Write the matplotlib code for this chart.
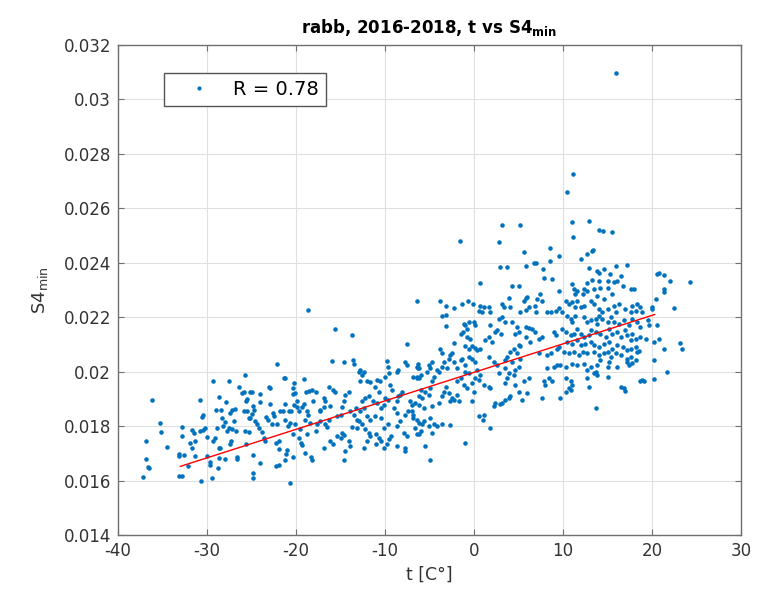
import matplotlib
matplotlib.use("Agg")
import matplotlib.pyplot as plt
from matplotlib.ticker import FuncFormatter, MultipleLocator

plt.rcParams['font.family'] = ['DejaVu Sans']
plt.rcParams['mathtext.fontset'] = 'dejavusans'

# (t [C], S4_min), grouped by region
region_a = [(-36.2,0.01897),(-35.27,0.01810),(-35.16,0.01779),(-36.85,0.01745),(-36.89,0.01681),
(-36.6,0.01648),(-36.5,0.01646),(-37.15,0.01612),(-34.53,0.01724),(-32.8,0.01796),(-32.8,0.01764),
(-33.2,0.01699),(-33.2,0.01691),(-33.1,0.01616),(-32.8,0.01616),(-32.6,0.01693),(-32.1,0.01655),
(-31.7,0.01784),(-31.5,0.01776),(-31.9,0.01738),(-31.7,0.01721),(-31.3,0.01745),(-31.3,0.01691),
(-30.8,0.01895),(-30.7,0.01598),(-30.6,0.01834),(-30.5,0.01842),(-30.8,0.01782),(-30.5,0.01785),
(-30.2,0.01794),(-30.0,0.01760),(-29.95,0.01691),(-29.7,0.01667),(-29.7,0.01657),(-29.35,0.01966),
(-29.4,0.01608),(-29.3,0.01745),(-29.1,0.01758),(-28.9,0.01794),(-29.0,0.01858),(-28.7,0.01907),
(-28.8,0.01646),(-28.7,0.01721),(-28.5,0.01721),(-28.6,0.01682),(-28.45,0.01858),(-28.3,0.01828),
(-28.2,0.01800),(-28.0,0.01815),(-27.85,0.01888),(-27.8,0.01782),(-27.55,0.01966),(-27.4,0.01848),
(-27.2,0.01861),(-27.5,0.01794),(-27.2,0.01788),(-27.3,0.01745),(-27.4,0.01733),(-27.0,0.01818),
(-26.84,0.01864),(-26.7,0.01782),(-28.0,0.01681),(-26.65,0.01687),(-26.6,0.01679),(-26.35,0.01945),
(-26.1,0.01921),(-25.8,0.01925),(-25.7,0.01988),(-25.6,0.01891),(-25.45,0.01901),(-25.8,0.01855),
(-25.45,0.01855),(-25.2,0.01927),(-24.95,0.01927),(-25.3,0.01830),(-25.15,0.01828),(-25.7,0.01782),
(-25.3,0.01778),(-25.6,0.01733),(-24.85,0.01873),(-24.7,0.01861),(-24.95,0.01845),(-24.6,0.01818),
(-24.4,0.01806),(-24.2,0.01794),(-24.1,0.01918),(-24.1,0.01888),(-24.85,0.01695),(-24.8,0.01627),
(-24.8,0.01608),(-24.0,0.01663),(-23.65,0.01755),(-23.5,0.01745),(-23.8,0.01779),(-23.35,0.01833),
(-23.2,0.01821),(-22.98,0.01945),(-22.9,0.01939),(-22.9,0.01881),(-22.6,0.01848),(-22.45,0.01836),
(-22.7,0.01806),(-22.15,0.01806),(-22.2,0.01739),(-21.96,0.01745),(-22.3,0.01655),(-21.96,0.01658),
(-22.15,0.0203),(-21.96,0.01715)]

region_b = [(-18.7,0.02228),(-21.3,0.01978),(-21.2,0.01978),(-20.2,0.0196),(-19.1,0.01973),
(-18.85,0.01925),(-18.5,0.0193),(-18.25,0.01933),(-17.8,0.01927),(-20.3,0.01918),(-20.1,0.01921),
(-19.9,0.01893),(-20.3,0.0194),(-21.8,0.01857),(-21.5,0.01855),(-21.2,0.01881),(-20.8,0.01857),
(-20.6,0.01857),(-20.2,0.01879),(-19.9,0.01869),(-19.7,0.01855),(-19.3,0.01869),(-19.15,0.01881),
(-18.8,0.01855),(-18.7,0.01842),(-18.1,0.01893),(-17.35,0.01861),(-17.3,0.01855),(-16.9,0.01903),
(-16.7,0.01893),(-16.3,0.01942),(-15.8,0.01933),(-15.6,0.01927),(-15.96,0.02039),(-15.66,0.02158),
(-14.6,0.02036),(-13.6,0.02042),(-13.7,0.02136),(-13.5,0.0203),(-16.9,0.01872),(-16.15,0.01875),
(-16.3,0.01824),(-21.2,0.01824),(-20.65,0.01812),(-20.85,0.018),(-20.1,0.01806),(-19.5,0.01788),
(-19.0,0.01824),(-18.4,0.01812),(-17.65,0.01808),(-17.3,0.01818),(-16.7,0.01806),(-16.5,0.01796),
(-17.8,0.01782),(-19.7,0.01758),(-19.45,0.01739),(-19.3,0.01731),(-20.3,0.01772),(-18.8,0.0177),
(-21.0,0.01712),(-21.1,0.01697),(-21.2,0.01675),(-20.3,0.01685),(-19.0,0.01703),(-18.3,0.01687),
(-18.2,0.01675),(-16.9,0.01718),(-16.15,0.01745),(-15.8,0.01733),(-15.4,0.01764),(-15.0,0.01755),
(-14.8,0.01776),(-14.65,0.01767),(-14.5,0.01709),(-14.6,0.01675),(-14.1,0.01745),(-13.9,0.01727),
(-13.7,0.01796),(-13.15,0.01794),(-15.4,0.01836),(-15.0,0.01842),(-14.8,0.01869),(-14.65,0.01891),
(-14.5,0.01915),(-14.1,0.01927),(-13.9,0.01855),(-13.5,0.01842),(-13.3,0.01867),(-13.15,0.01824),
(-12.95,0.0200),(-12.8,0.02006),(-12.85,0.01964),(-12.6,0.01988),(-12.4,0.0200),(-12.0,0.01964),
(-11.7,0.01961),(-12.6,0.01891),(-12.2,0.01903),(-11.85,0.01909),(-12.8,0.01855),(-12.4,0.01867),
(-12.95,0.01818),(-12.6,0.01806),(-12.0,0.01836),(-11.65,0.01824),(-12.2,0.01788),(-11.85,0.01776),
(-12.0,0.01745),(-11.65,0.01764),(-12.4,0.01721),(-11.1,0.01945),(-10.7,0.01927),(-10.9,0.01970),
(-10.6,0.01964),(-11.3,0.01891),(-10.9,0.01885),(-10.5,0.01867),(-10.15,0.01879),(-11.1,0.01836),
(-10.5,0.0183),(-9.96,0.01903),(-9.7,0.01897),(-9.8,0.0204),(-9.7,0.02018),(-9.96,0.01982),
(-9.6,0.01994),(-9.4,0.01952),(-9.2,0.01933),(-10.15,0.01794),(-9.7,0.01806),(-11.0,0.0177),
(-10.7,0.01755),(-10.5,0.01745),(-11.0,0.01733),(-10.15,0.01721),(-9.8,0.01736),(-9.6,0.01752),
(-9.35,0.01764),(-9.0,0.01867),(-8.7,0.01848),(-8.65,0.01891),(-8.5,0.01909),(-8.6,0.0200),
(-8.5,0.02006),(-8.3,0.01915),(-8.1,0.01927),(-7.7,0.02036),(-7.5,0.02024),(-7.7,0.01842),
(-7.45,0.01855),(-7.5,0.02103),(-8.6,0.018),(-8.3,0.01818),(-7.9,0.01776),(-7.5,0.01764),
(-7.7,0.01721),(-7.7,0.01709),(-8.65,0.01727),(-7.15,0.01891),(-6.95,0.01879),(-6.8,0.01842),
(-6.4,0.01824),(-6.6,0.01794),(-6.4,0.0177),(-6.3,0.0203),(-6.3,0.02012),(-6.4,0.01982),
(-6.2,0.01976),(-20.7,0.0159)]

region_c = [(3.16,0.02539),(5.15,0.02539),(-1.6,0.02479),(2.79,0.02476),(8.5,0.02455),(5.67,0.02439),
(9.5,0.02424),(6.72,0.0240),(7.0,0.02398),(5.8,0.02388),(2.97,0.02384),(3.72,0.02384),(7.77,0.02378),
(8.5,0.02406),(7.9,0.02345),(8.8,0.02339),(0.72,0.02325),(4.3,0.02313),(5.04,0.02315),(5.97,0.02276),
(5.8,0.02269),(5.6,0.0226),(7.47,0.02285),(7.1,0.02267),(9.5,0.02297),(-6.4,0.02258),(-3.85,0.02258),
(-3.1,0.02242),(-2.3,0.02233),(-1.34,0.02248),(-0.7,0.02258),(-0.1,0.02248),(0.72,0.02242),
(1.17,0.02236),(1.66,0.02236),(1.85,0.02218),(0.54,0.02224),(0.9,0.02221),(3.16,0.02248),
(3.35,0.02236),(3.9,0.02269),(4.1,0.02236),(5.2,0.02218),(5.8,0.02227),(6.16,0.02236),(6.9,0.02242),
(7.0,0.02221),(7.66,0.0226),(8.2,0.02218),(8.6,0.02221),(9.16,0.02224),(9.5,0.02233),(-3.6,0.02204),
(-3.2,0.02209),(-3.1,0.02166),(-1.15,0.02176),(-0.96,0.0217),(-0.77,0.02158),(-0.6,0.02182),
(-0.03,0.02182),(0.16,0.0217),(-1.5,0.02139),(-1.2,0.02145),(-0.77,0.02127),(-0.4,0.02121),
(-2.3,0.02107),(-0.96,0.02095),(-0.6,0.02085),(-0.2,0.02095),(0.16,0.02087),(0.35,0.02079),
(0.72,0.02085),(1.28,0.02115),(1.66,0.02127),(2.0,0.02109),(2.4,0.02145),(2.6,0.02152),(3.0,0.02139),
(2.8,0.02194),(3.5,0.02182),(3.16,0.022),(1.85,0.0217),(4.3,0.02182),(4.85,0.02164),(4.66,0.02139),
(5.04,0.02145),(5.8,0.02164),(6.16,0.0216),(6.5,0.02158),(6.9,0.02145),(7.3,0.02121),(7.66,0.02127),
(5.8,0.02127),(6.3,0.02109),(5.04,0.02099),(5.2,0.02095),(7.3,0.02067),(8.2,0.0206),(8.6,0.02067),
(9.16,0.02133),(9.0,0.02145),(9.35,0.02085),(9.5,0.02091),(8.2,0.02012),(8.4,0.01976),(8.8,0.01964),
(9.35,0.02024),(9.0,0.02018),(7.85,0.01964),(8.0,0.01952),(7.66,0.01903),(6.16,0.01976),(5.6,0.01964),
(4.1,0.02073),(4.5,0.02085),(4.85,0.02067),(3.72,0.02055),(3.5,0.02042),(4.3,0.02036),(5.2,0.02048),
(1.66,0.02055),(2.2,0.02036),(2.6,0.02024),(3.5,0.02012),(3.9,0.01994),(4.5,0.01988),(3.5,0.01958),
(3.72,0.01976),(2.8,0.01994),(5.04,0.02018),(4.66,0.02006),(4.66,0.01952),(5.04,0.01927),(4.1,0.01909),
(3.9,0.01903),(3.5,0.01897),(3.16,0.01885),(2.4,0.01885),(2.2,0.01873),(2.97,0.01881),(5.4,0.01897),
(5.97,0.01921),(1.1,0.01952),(1.66,0.01945),(1.85,0.0194),(0.16,0.01976),(0.54,0.0197),(-0.2,0.01958),
(-0.03,0.01927),(-0.2,0.01891),(0.6,0.01836),(1.0,0.01824),(1.17,0.01842),(1.85,0.01794),
(-0.96,0.01739),(-1.5,0.02042),(-1.34,0.02048),(-0.96,0.02024),(-0.6,0.02055),(-0.2,0.02048),
(0.16,0.02036),(0.35,0.02006),(0.72,0.01988),(-0.96,0.02),(-0.6,0.01994),(-1.9,0.02012),(-1.5,0.01976),
(-1.9,0.01964),(-1.15,0.01952),(-0.77,0.0194),(-2.65,0.02061),(-2.5,0.02067),(-2.85,0.02048),
(-2.3,0.02036),(-3.0,0.02012),(-3.8,0.02085),(-3.6,0.02067),(-3.4,0.02036),(-3.6,0.02018),
(-4.15,0.02006),(-3.96,0.02),(-4.9,0.02012),(-4.7,0.02036),(-5.1,0.02024),(-5.3,0.02),(-6.4,0.02018),
(-6.2,0.02012),(-6.8,0.01982),(-6.4,0.01976),(-6.0,0.01988),(-4.5,0.01982),(-4.7,0.01964),
(-3.2,0.01945),(-3.4,0.01927),(-2.85,0.01921),(-2.5,0.01903),(-2.3,0.01897),(-2.65,0.01891),
(-1.9,0.01915),(-1.7,0.01891),(-3.6,0.01909),(-3.96,0.01885),(-4.9,0.0194),(-5.1,0.01915),
(-5.5,0.01927),(-6.0,0.01933),(-5.8,0.01903),(-6.2,0.01909),(-6.6,0.01885),(-6.2,0.01879),
(-5.65,0.01867),(-4.7,0.01873),(-4.9,0.0183),(-5.65,0.01818),(-5.8,0.01806),(-6.2,0.01812),
(-5.1,0.018),(-4.5,0.01806),(-4.15,0.018),(-3.6,0.01806),(-2.65,0.01803),(-6.0,0.01782),
(-6.2,0.0177),(-4.7,0.01776),(-5.45,0.01727),(-5.0,0.01676),(-6.8,0.0183),(-6.95,0.01855)]

region_d = [(16.0,0.03097),(11.1,0.02727),(10.4,0.0266),(10.96,0.02549),(12.9,0.02552),(14.1,0.02521),
(14.5,0.02518),(15.5,0.02514),(11.1,0.02493),(11.97,0.02415),(12.7,0.02434),(13.3,0.02442),
(13.4,0.02448),(12.9,0.02382),(13.85,0.0237),(14.1,0.02364),(14.6,0.02378),(16.0,0.0239),
(17.2,0.02393),(15.3,0.02358),(16.5,0.02352),(16.1,0.02333),(15.7,0.0233),(15.0,0.02333),
(14.0,0.02333),(13.3,0.02336),(12.7,0.02327),(11.0,0.02321),(16.7,0.02315),(17.6,0.02303),
(18.0,0.02303),(20.6,0.02358),(20.8,0.02364),(21.3,0.02355),(22.0,0.02333),(24.3,0.0233),
(21.3,0.02303),(21.3,0.02291),(20.4,0.02267),(22.5,0.02233),(20.0,0.02236),(11.2,0.02303),
(11.6,0.02297),(11.4,0.02285),(12.35,0.02303),(12.7,0.02297),(13.5,0.02303),(14.2,0.02309),
(15.0,0.02309),(15.5,0.02285),(14.6,0.02267),(13.85,0.02279),(13.1,0.02261),(12.3,0.02285),
(10.3,0.02261),(10.65,0.02248),(11.0,0.02255),(11.6,0.02261),(11.97,0.02236),(12.35,0.02242),
(11.4,0.02236),(13.5,0.02248),(14.1,0.0223),(14.4,0.02218),(14.0,0.02206),(15.0,0.0223),
(15.7,0.02242),(16.3,0.02248),(15.9,0.0222),(17.0,0.0223),(17.8,0.02242),(18.3,0.02248),
(17.6,0.02218),(18.2,0.02224),(18.7,0.02236),(18.9,0.02218),(20.0,0.0223),(9.9,0.02218),
(10.5,0.02206),(10.85,0.02194),(11.0,0.02182),(11.4,0.02206),(12.35,0.022),(12.7,0.02182),
(13.1,0.02188),(13.7,0.02194),(13.85,0.02176),(14.4,0.02194),(15.0,0.02182),(15.35,0.022),
(15.7,0.02182),(16.3,0.02176),(16.9,0.02188),(17.4,0.0217),(17.8,0.02194),(18.3,0.02182),
(18.7,0.02164),(19.5,0.02188),(19.7,0.0217),(20.6,0.0217),(20.8,0.02121),(20.2,0.02109),
(9.9,0.02158),(10.3,0.02145),(10.85,0.02133),(11.2,0.02139),(11.6,0.02158),(11.97,0.02139),
(12.35,0.02127),(12.9,0.02133),(13.1,0.02152),(13.7,0.02145),(14.2,0.02139),(14.8,0.02127),
(15.2,0.02158),(15.5,0.02139),(16.1,0.02145),(16.5,0.02127),(17.0,0.02152),(17.2,0.02133),
(17.8,0.02139),(17.6,0.02115),(18.2,0.02121),(18.7,0.02127),(19.3,0.02121),(10.5,0.02109),
(11.0,0.02103),(11.6,0.02115),(11.97,0.02097),(12.5,0.02103),(13.1,0.02109),(13.5,0.02097),
(14.0,0.02091),(14.6,0.02103),(15.2,0.02109),(15.5,0.02085),(16.1,0.02097),(16.7,0.02091),
(17.2,0.02079),(17.6,0.02085),(18.2,0.02091),(18.5,0.02075),(10.1,0.02073),(10.65,0.02067),
(11.2,0.02073),(11.8,0.02061),(12.2,0.02073),(12.7,0.02067),(13.5,0.02073),(14.0,0.02061),
(14.6,0.02067),(15.0,0.02073),(15.35,0.02055),(15.9,0.02067),(16.5,0.02061),(17.2,0.02048),
(17.6,0.02055),(18.3,0.02073),(18.2,0.02042),(9.7,0.02024),(10.3,0.02018),(11.0,0.0203),
(11.6,0.02024),(12.35,0.0203),(13.1,0.02018),(13.85,0.02024),(14.2,0.02042),(15.0,0.02018),
(15.2,0.02036),(16.1,0.02018),(17.2,0.02036),(17.4,0.02024),(17.8,0.02033),(20.2,0.02042),
(21.3,0.02085),(23.2,0.02107),(23.4,0.02085),(21.7,0.01998),(12.7,0.02006),(13.5,0.01994),
(13.7,0.02),(13.85,0.01988),(15.0,0.01982),(10.3,0.01976),(10.85,0.01964),(11.0,0.01952),
(10.65,0.01939),(12.7,0.01976),(12.9,0.01942),(16.5,0.01945),(16.9,0.01939),(17.0,0.0193),
(18.7,0.01964),(18.9,0.0197),(19.1,0.01964),(20.2,0.01972),(10.3,0.01927),(10.9,0.01933),
(13.7,0.01867),(9.7,0.01903)]

# regression line end points
fit_t = [-33.0, 20.3]
fit_s4 = [0.01652, 0.02210]

r_label = "R = 0.78"

points = region_a + region_b + region_c + region_d
t_vals = [p[0] for p in points]
s4_vals = [p[1] for p in points]

fig = plt.figure(figsize=(7.77, 5.95), dpi=100)
ax = fig.add_axes([118/777, 60/595, 623/777, 490/595])

blue = '#0072BD'
ax.plot(t_vals, s4_vals, '.', color=blue, markersize=4.5, label=r_label, zorder=3)
ax.plot(fit_t, fit_s4, '-', color='red', lw=1.0, zorder=4)

ax.set_xlim(-40, 30)
ax.set_ylim(0.014, 0.032)
ax.xaxis.set_major_locator(MultipleLocator(10))
ax.yaxis.set_major_locator(MultipleLocator(0.002))
ax.yaxis.set_major_formatter(FuncFormatter(lambda v, p: ('%.3f' % v).rstrip('0')))
ax.xaxis.set_major_formatter(FuncFormatter(lambda v, p: '%d' % round(v)))

ax.grid(True, color='#e0e0e0', lw=0.8)
ax.set_axisbelow(True)
for s in ax.spines.values():
    s.set_color('#707070')
    s.set_linewidth(1.0)
ax.tick_params(direction='in', length=4, width=0.8, color='#707070', labelcolor='#333333',
               labelsize=12, top=True, right=True, pad=5)

ax.set_xlabel('t [C°]', fontsize=12.5, color='#333333', labelpad=4)
ax.set_ylabel(r'S4$_{\mathrm{min}}$', fontsize=13, color='#333333', labelpad=10)
ax.set_title(r'rabb, 2016-2018, t vs S4$_{\mathbf{min}}$', fontsize=12, fontweight='bold',
             color='black', pad=9)

leg = ax.legend(loc='upper left', bbox_to_anchor=(0.0738, 0.943), fontsize=14,
                frameon=True, fancybox=False, edgecolor='#555555', framealpha=1,
                handlelength=2.9, borderpad=0.35, handletextpad=0.3, borderaxespad=0)
leg.get_frame().set_linewidth(1.0)
for h in leg.legend_handles:
    h.set_markersize(4)

fig.savefig('out.png', dpi=100)
